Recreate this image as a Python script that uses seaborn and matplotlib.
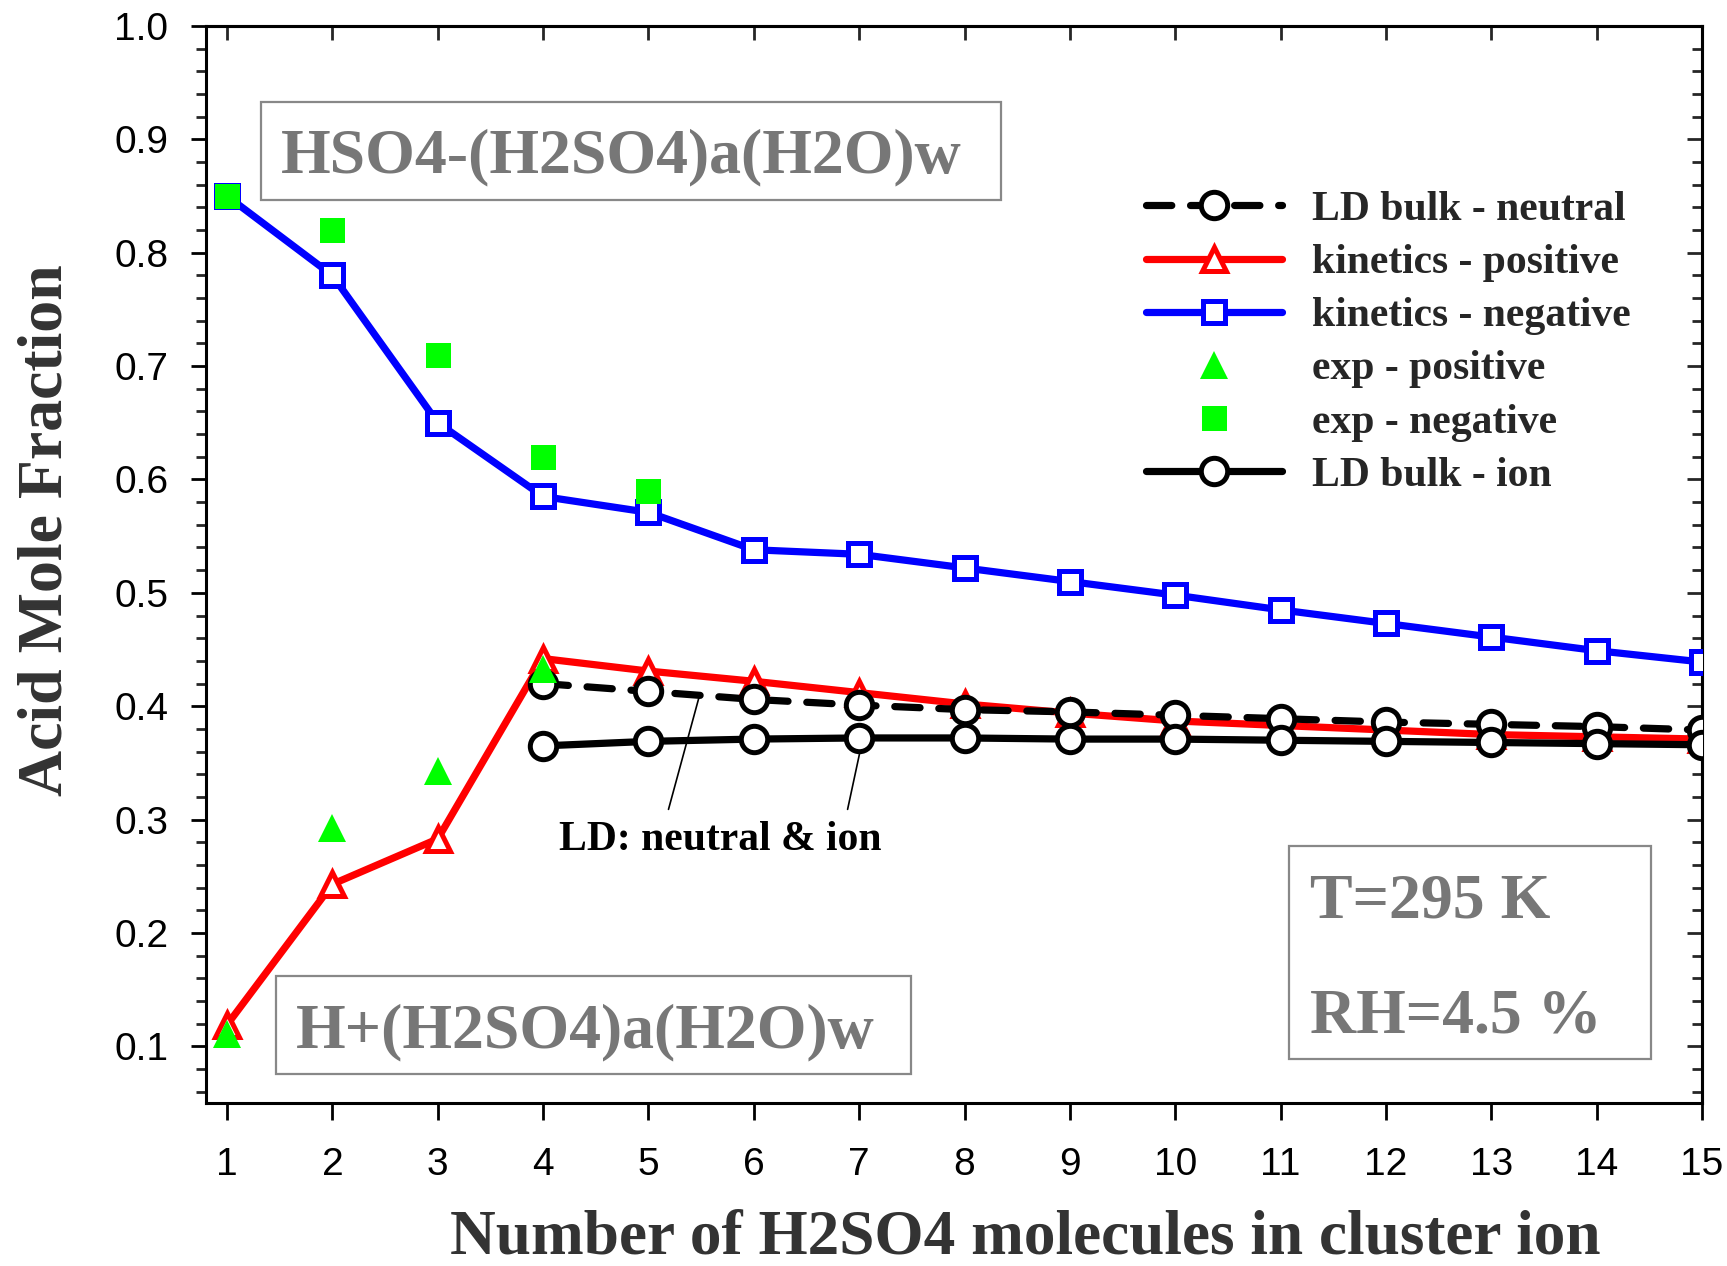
import numpy as np
import matplotlib
matplotlib.use("Agg")
import matplotlib.pyplot as plt
from matplotlib.patches import Rectangle
from matplotlib.ticker import MultipleLocator, FormatStrFormatter, FixedLocator
from matplotlib.font_manager import FontProperties
import seaborn as sns

# Number of H2SO4 molecules in the cluster ion
n_acid = list(range(1, 16))
n_ld = list(range(4, 16))
n_exp_pos = [1, 2, 3, 4]
n_exp_neg = [1, 2, 3, 4, 5]

# Acid mole fraction for each model / measurement
kinetics_negative = [0.850, 0.780, 0.650, 0.585, 0.571, 0.538, 0.534, 0.522,
                     0.510, 0.498, 0.485, 0.473, 0.461, 0.449, 0.439]
kinetics_positive = [0.119, 0.243, 0.283, 0.442, 0.431, 0.422, 0.412, 0.402,
                     0.394, 0.387, 0.383, 0.379, 0.375, 0.373, 0.371]
ld_neutral = [0.420, 0.413, 0.406, 0.401, 0.397, 0.395, 0.392, 0.389,
              0.386, 0.384, 0.382, 0.379]
ld_ion = [0.365, 0.369, 0.371, 0.372, 0.372, 0.371, 0.371, 0.370,
          0.369, 0.368, 0.367, 0.366]
exp_positive = [0.111, 0.293, 0.343, 0.433]
exp_negative = [0.850, 0.820, 0.710, 0.620, 0.590]

x_ticks = list(range(1, 16))
y_ticks = [0.1, 0.2, 0.3, 0.4, 0.5, 0.6, 0.7, 0.8, 0.9, 1.0]

sns.set_style("ticks")
plt.rcParams["font.family"] = ["Liberation Serif", "DejaVu Serif"]

SERIF = "Liberation Serif"
SANS = "Liberation Sans"
BLUE, RED, GREEN, BLACK = "#0000ff", "#ff0000", "#00ff00", "#000000"
GREY_TXT, GREY_BOX = "#777777", "#888888"

fig = plt.figure(figsize=(17.27, 12.66), dpi=100)
ax = fig.add_axes([0.11928, 0.12875, 0.86624, 0.85071])

LW = 5.2
line_common = dict(linewidth=LW, markerfacecolor="white", markeredgewidth=3.6)

sns.lineplot(x=n_acid, y=kinetics_positive, ax=ax, color=RED, marker="^",
             markersize=17, markeredgecolor=RED, label="kinetics - positive",
             zorder=3, **line_common)
sns.lineplot(x=n_ld, y=ld_neutral, ax=ax, color=BLACK, marker="o",
             markersize=19, markeredgecolor=BLACK, linestyle=(0, (3.5, 2.6)),
             dash_capstyle="round", label="LD bulk - neutral", zorder=4,
             **line_common)
sns.lineplot(x=n_ld, y=ld_ion, ax=ax, color=BLACK, marker="o",
             markersize=19, markeredgecolor=BLACK, label="LD bulk - ion",
             zorder=4, **line_common)
sns.lineplot(x=n_acid, y=kinetics_negative, ax=ax, color=BLUE, marker="s",
             markersize=16.5, markeredgecolor=BLUE, label="kinetics - negative",
             zorder=5, **line_common)
sns.lineplot(x=n_exp_pos, y=exp_positive, ax=ax, color=GREEN, linestyle="",
             marker="^", markersize=20, markeredgewidth=0,
             markerfacecolor=GREEN, label="exp - positive", zorder=6)
sns.lineplot(x=n_exp_neg, y=exp_negative, ax=ax, color=GREEN, linestyle="",
             marker="s", markersize=18, markeredgewidth=0,
             markerfacecolor=GREEN, label="exp - negative", zorder=6)

# axis ranges and ticks
ax.set_xlim(0.8, 15)
ax.set_ylim(0.05, 1.0)
ax.xaxis.set_major_locator(FixedLocator(x_ticks))
ax.yaxis.set_major_locator(FixedLocator(y_ticks))
ax.yaxis.set_minor_locator(MultipleLocator(0.02))
ax.yaxis.set_major_formatter(FormatStrFormatter("%.1f"))

for sp in ax.spines.values():
    sp.set_linewidth(2.2)
    sp.set_color(BLACK)

ax.tick_params(axis="x", which="major", direction="out", length=12, width=2,
               pad=20, labelsize=28, colors=BLACK, top=False)
ax.tick_params(axis="y", which="major", direction="out", length=11, width=2,
               pad=16, labelsize=28, colors=BLACK, right=False)
ax.tick_params(axis="y", which="minor", direction="out", length=7, width=2,
               right=False)
for lab in ax.get_xticklabels() + ax.get_yticklabels():
    lab.set_fontfamily(SANS)

top = ax.secondary_xaxis("top")
top.xaxis.set_major_locator(FixedLocator(x_ticks))
top.tick_params(axis="x", which="major", direction="in", length=10, width=2,
                labeltop=False)
top.spines["top"].set_linewidth(2.2)

right = ax.secondary_yaxis("right")
right.yaxis.set_major_locator(FixedLocator(y_ticks))
right.yaxis.set_minor_locator(MultipleLocator(0.02))
right.tick_params(axis="y", which="major", direction="in", length=11, width=2,
                  labelright=False)
right.tick_params(axis="y", which="minor", direction="in", length=7, width=2)
right.spines["right"].set_linewidth(2.2)

# axis titles
ax.set_xlabel("Number of H2SO4 molecules in cluster ion", fontsize=45.5,
              fontweight="bold", color="#333333", family=SERIF)
ax.xaxis.label.set_va("baseline")
ax.xaxis.set_label_coords(0.548, -0.1400)
ax.set_ylabel("Acid Mole Fraction", fontsize=46, fontweight="bold",
              color="#333333", family=SERIF)
ax.yaxis.label.set_va("baseline")
ax.yaxis.set_label_coords(-0.0963, 0.532)

# framed cluster labels and conditions
boxes = [(0.0368, 0.8384, 0.4946, 0.0910),
         (0.0468, 0.0269, 0.4245, 0.0910),
         (0.7239, 0.0409, 0.2420, 0.1977)]
for x0, y0, w, h in boxes:
    ax.add_patch(Rectangle((x0, y0), w, h, transform=ax.transAxes,
                           facecolor="white", edgecolor=GREY_BOX, lw=1.6,
                           zorder=2))

box_text = dict(transform=ax.transAxes, ha="left", va="baseline", fontsize=46,
                fontweight="bold", color=GREY_TXT, family=SERIF, zorder=7)
ax.text(0.0501, 0.8644, "HSO4-(H2SO4)a(H2O)w", **box_text)
ax.text(0.0602, 0.0520, "H+(H2SO4)a(H2O)w", **box_text)
ax.text(0.7380, 0.1727, "T=295 K", **box_text)
ax.text(0.7380, 0.0650, "RH=4.5 %", **box_text)

# pointer to the two LD curves
ax.text(4.148, 0.2732, "LD: neutral & ion", ha="left", va="baseline",
        fontsize=30, fontweight="bold", color=BLACK, family=SERIF, zorder=7)
lead = dict(arrowstyle="-", lw=1.2, color=BLACK, shrinkA=0, shrinkB=0)
ax.annotate("", xy=(5.48, 0.408), xytext=(5.19, 0.309), arrowprops=lead)
ax.annotate("", xy=(7.01, 0.361), xytext=(6.89, 0.309), arrowprops=lead)

# legend in a fixed order
handles, labels = ax.get_legend_handles_labels()
order = ["LD bulk - neutral", "kinetics - positive", "kinetics - negative",
         "exp - positive", "exp - negative", "LD bulk - ion"]
hmap = dict(zip(labels, handles))
ax.legend([hmap[k] for k in order], order, loc="upper left",
          bbox_to_anchor=(0.6283, 0.847), frameon=False,
          prop=FontProperties(family=SERIF, weight="bold", size=30),
          handlelength=3.26, handletextpad=0.72, labelspacing=0.36,
          borderpad=0, borderaxespad=0, numpoints=1)

fig.savefig("out.png", dpi=100)
